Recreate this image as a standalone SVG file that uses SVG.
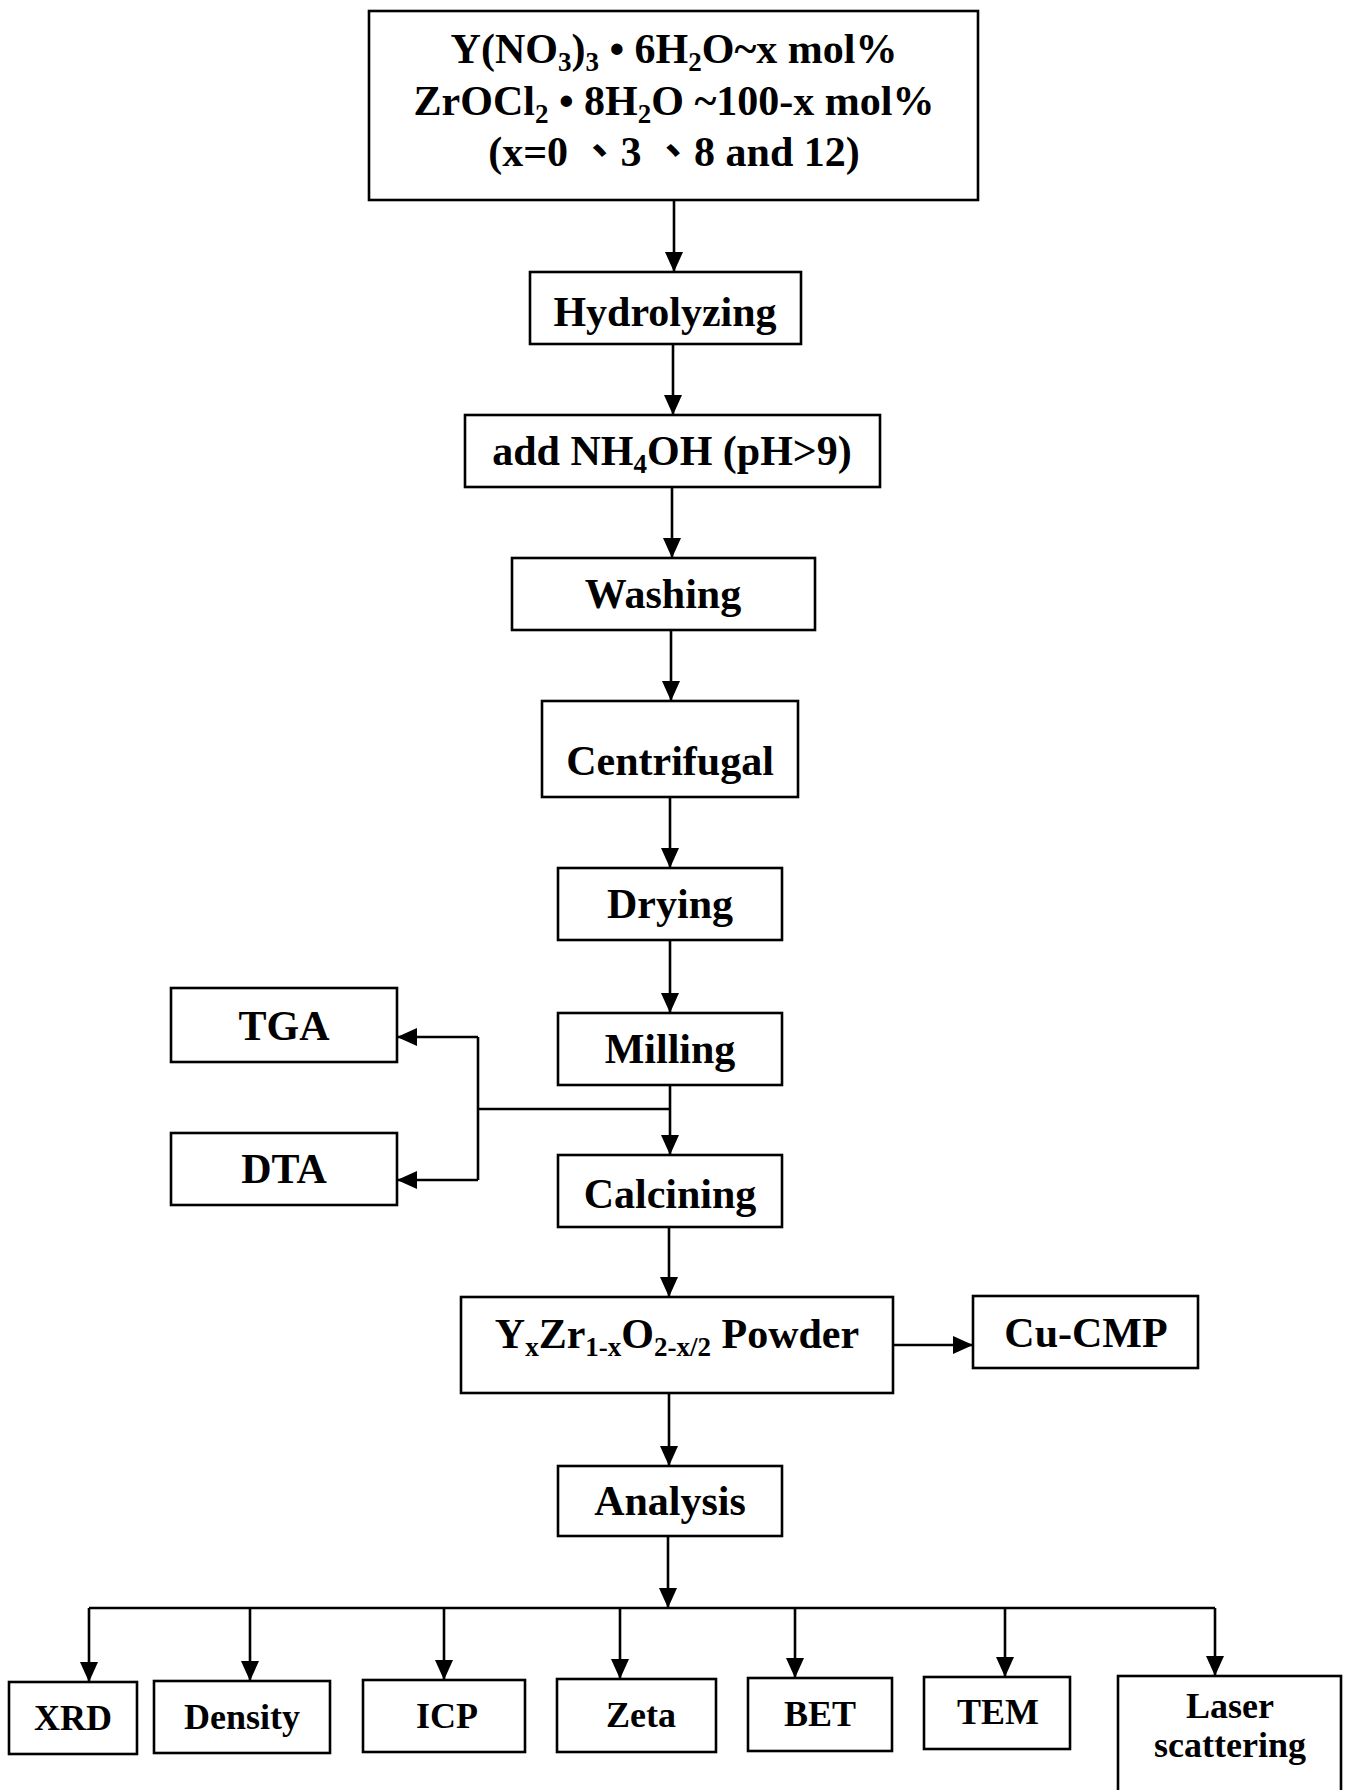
<svg xmlns="http://www.w3.org/2000/svg" width="1346" height="1790" viewBox="0 0 1346 1790">
<style>
.box{fill:#fff;stroke:#000;stroke-width:2.6}
.t{font-family:"Liberation Serif","Noto Sans CJK TC",serif;font-weight:bold;font-size:42px;text-anchor:middle;fill:#000}
.s{font-family:"Liberation Serif","Noto Sans CJK TC",serif;font-weight:bold;font-size:36px;text-anchor:middle;fill:#000}
.c{fill:none;stroke:#000;stroke-width:2.6}
</style>
<defs>
<marker id="ah" markerUnits="userSpaceOnUse" markerWidth="22" markerHeight="20" refX="20" refY="9" orient="auto">
<path d="M0,0 L20,9 L0,18 Z" fill="#000"/>
</marker>
</defs>
<rect width="1346" height="1790" fill="#fff"/>
<g id="connectors">
<line class="c" x1="674" y1="200" x2="674" y2="272" marker-end="url(#ah)"/>
<line class="c" x1="673" y1="345" x2="673" y2="415" marker-end="url(#ah)"/>
<line class="c" x1="672" y1="487" x2="672" y2="558" marker-end="url(#ah)"/>
<line class="c" x1="671" y1="630" x2="671" y2="701" marker-end="url(#ah)"/>
<line class="c" x1="670" y1="797" x2="670" y2="868" marker-end="url(#ah)"/>
<line class="c" x1="670" y1="940" x2="670" y2="1013" marker-end="url(#ah)"/>
<line class="c" x1="670" y1="1085" x2="670" y2="1155" marker-end="url(#ah)"/>
<polyline class="c" points="670,1109 478,1109"/>
<polyline class="c" points="478,1037 478,1180"/>
<line class="c" x1="478" y1="1037" x2="397" y2="1037" marker-end="url(#ah)"/>
<line class="c" x1="478" y1="1180" x2="397" y2="1180" marker-end="url(#ah)"/>
<line class="c" x1="669" y1="1227" x2="669" y2="1297" marker-end="url(#ah)"/>
<line class="c" x1="893" y1="1345" x2="973" y2="1345" marker-end="url(#ah)"/>
<line class="c" x1="669" y1="1393" x2="669" y2="1466" marker-end="url(#ah)"/>
<line class="c" x1="668" y1="1536" x2="668" y2="1608" marker-end="url(#ah)"/>
<polyline class="c" points="89,1608 1215,1608"/>
<line class="c" x1="89" y1="1608" x2="89" y2="1682" marker-end="url(#ah)"/>
<line class="c" x1="250" y1="1608" x2="250" y2="1681" marker-end="url(#ah)"/>
<line class="c" x1="444" y1="1608" x2="444" y2="1680" marker-end="url(#ah)"/>
<line class="c" x1="620" y1="1608" x2="620" y2="1679" marker-end="url(#ah)"/>
<line class="c" x1="795" y1="1608" x2="795" y2="1678" marker-end="url(#ah)"/>
<line class="c" x1="1005" y1="1608" x2="1005" y2="1677" marker-end="url(#ah)"/>
<line class="c" x1="1215" y1="1608" x2="1215" y2="1676" marker-end="url(#ah)"/>
</g>
<g id="start">
<rect class="box" x="369" y="11" width="609" height="189"/>
<text class="t" x="674" y="63">Y(NO<tspan font-size="27" dy="8">3</tspan><tspan dy="-8">)</tspan><tspan font-size="27" dy="8">3</tspan><tspan dy="-8"> • 6H</tspan><tspan font-size="27" dy="8">2</tspan><tspan dy="-8">O~x mol%</tspan></text>
<text class="t" x="674" y="115">ZrOCl<tspan font-size="27" dy="8">2</tspan><tspan dy="-8"> • 8H</tspan><tspan font-size="27" dy="8">2</tspan><tspan dy="-8">O ~100-x mol%</tspan></text>
<text class="t" x="674" y="166">(x=0 、3 、8 and 12)</text>
</g>
<g id="hydrolyzing">
<rect class="box" x="530" y="272" width="271" height="72"/>
<text class="t" x="665" y="326">Hydrolyzing</text>
</g>
<g id="nh4oh">
<rect class="box" x="465" y="415" width="415" height="72"/>
<text class="t" x="672" y="465">add NH<tspan font-size="27" dy="8">4</tspan><tspan dy="-8">OH (pH&gt;9)</tspan></text>
</g>
<g id="washing">
<rect class="box" x="512" y="558" width="303" height="72"/>
<text class="t" x="663" y="608">Washing</text>
</g>
<g id="centrifugal">
<rect class="box" x="542" y="701" width="256" height="96"/>
<text class="t" x="670" y="775">Centrifugal</text>
</g>
<g id="drying">
<rect class="box" x="558" y="868" width="224" height="72"/>
<text class="t" x="670" y="918">Drying</text>
</g>
<g id="milling">
<rect class="box" x="558" y="1013" width="224" height="72"/>
<text class="t" x="670" y="1063">Milling</text>
</g>
<g id="tga">
<rect class="box" x="171" y="988" width="226" height="74"/>
<text class="t" x="284" y="1040">TGA</text>
</g>
<g id="dta">
<rect class="box" x="171" y="1133" width="226" height="72"/>
<text class="t" x="284" y="1183">DTA</text>
</g>
<g id="calcining">
<rect class="box" x="558" y="1155" width="224" height="72"/>
<text class="t" x="670" y="1208">Calcining</text>
</g>
<g id="powder">
<rect class="box" x="461" y="1297" width="432" height="96"/>
<text class="t" x="677" y="1348">Y<tspan font-size="27" dy="8">x</tspan><tspan dy="-8">Zr</tspan><tspan font-size="27" dy="8">1-x</tspan><tspan dy="-8">O</tspan><tspan font-size="27" dy="8">2-x/2</tspan><tspan dy="-8"> Powder</tspan></text>
</g>
<g id="cucmp">
<rect class="box" x="973" y="1296" width="225" height="72"/>
<text class="t" x="1086" y="1347">Cu-CMP</text>
</g>
<g id="analysis">
<rect class="box" x="558" y="1466" width="224" height="70"/>
<text class="t" x="670" y="1515">Analysis</text>
</g>
<g id="xrd">
<rect class="box" x="9" y="1682" width="128" height="72"/>
<text class="s" x="73" y="1730">XRD</text>
</g>
<g id="density">
<rect class="box" x="154" y="1681" width="176" height="72"/>
<text class="s" x="242" y="1729">Density</text>
</g>
<g id="icp">
<rect class="box" x="363" y="1680" width="162" height="72"/>
<text class="s" x="447" y="1728">ICP</text>
</g>
<g id="zeta">
<rect class="box" x="557" y="1679" width="159" height="73"/>
<text class="s" x="641" y="1727">Zeta</text>
</g>
<g id="bet">
<rect class="box" x="748" y="1678" width="144" height="73"/>
<text class="s" x="820" y="1726">BET</text>
</g>
<g id="tem">
<rect class="box" x="924" y="1677" width="146" height="72"/>
<text class="s" x="998" y="1724">TEM</text>
</g>
<g id="laser">
<rect class="box" x="1118" y="1676" width="223" height="130"/>
<text class="s" x="1230" y="1718">Laser</text>
<text class="s" x="1230" y="1757">scattering</text>
</g>
</svg>
